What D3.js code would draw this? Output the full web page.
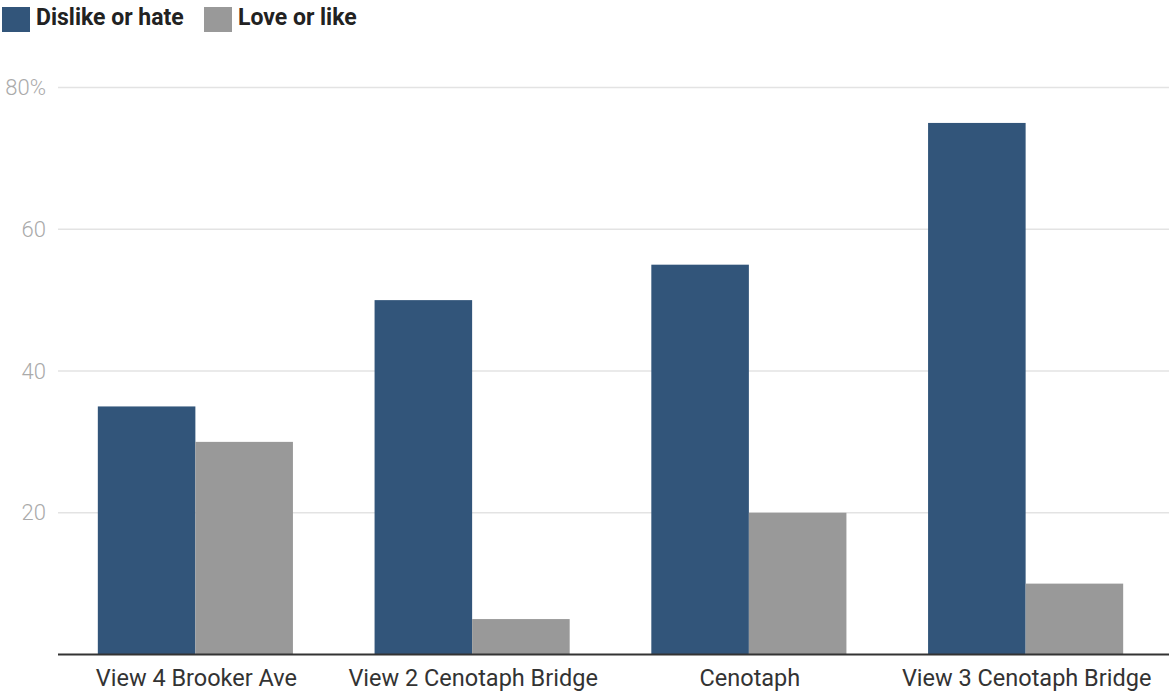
<!DOCTYPE html>
<html><head><meta charset="utf-8">
<script src="https://cdn.jsdelivr.net/npm/d3@7"></script>
<style>body{margin:0;background:#fff;font-family:Roboto,"Noto Sans",sans-serif;}</style>
</head><body><svg id="c" width="1169" height="693"></svg>
<script>
const categories = ["View 4 Brooker Ave","View 2 Cenotaph Bridge","Cenotaph","View 3 Cenotaph Bridge"];
const seriesNames = ["Dislike or hate","Love or like"];
const dislike = [35,50,55,75];
const love = [30,5,20,10];
const yTicks = [20,40,60,80];
const colors = ["#32557a","#999999"];

const svg = d3.select("#c");
const W = 1169, H = 693;
const x0 = d3.scaleBand().domain(categories).range([57,1164]).paddingInner(0.295).paddingOuter(0.1475);
const x1 = d3.scaleBand().domain(seriesNames).range([0,x0.bandwidth()]);
const y = d3.scaleLinear().domain([0,80]).range([654.5,87.5]);
const color = d3.scaleOrdinal().domain(seriesNames).range(colors);

// gridlines
svg.append("g").selectAll("line").data(yTicks).join("line")
  .attr("x1",58).attr("x2",W).attr("y1",d=>y(d)).attr("y2",d=>y(d))
  .attr("stroke","#e3e3e3").attr("stroke-width",1.5);
svg.append("g").selectAll("text").data(yTicks).join("text")
  .attr("x",46).attr("y",d=>y(d)).attr("dy","0.35em").attr("text-anchor","end")
  .attr("font-size",22).attr("font-weight",300).attr("fill","#aaaaaa")
  .text(d=>d===80?d+"%":d);

const rows = categories.map((c,i)=>({cat:c,vals:[dislike[i],love[i]]}));
const g = svg.append("g").selectAll("g").data(rows).join("g")
  .attr("transform",d=>`translate(${x0(d.cat)},0)`);
g.selectAll("rect").data(d=>d.vals.map((v,j)=>({s:seriesNames[j],v})))
  .join("rect").attr("x",d=>x1(d.s)).attr("width",x1.bandwidth())
  .attr("y",d=>y(d.v)).attr("height",d=>y(0)-y(d.v)).attr("fill",d=>color(d.s));

// baseline
svg.append("line").attr("x1",58).attr("x2",W).attr("y1",y(0)).attr("y2",y(0))
  .attr("stroke","#333").attr("stroke-width",2);

// x labels
svg.append("g").selectAll("text").data(categories).join("text")
  .attr("x",d=>x0(d)+x0.bandwidth()/2+1).attr("y",686).attr("text-anchor","middle")
  .attr("font-size",23.5).attr("fill","#333").text(d=>d);

// legend
const legX = [2,204];
const lg = svg.append("g").selectAll("g").data(seriesNames).join("g")
  .attr("transform",(d,i)=>`translate(${legX[i]},0)`);
lg.append("rect").attr("x",0).attr("y",7).attr("width",28).attr("height",25).attr("fill",d=>color(d));
lg.append("text").attr("x",34).attr("y",24.5).attr("font-size",23).attr("font-weight",700)
  .attr("fill","#222").text(d=>d);
</script></body></html>
